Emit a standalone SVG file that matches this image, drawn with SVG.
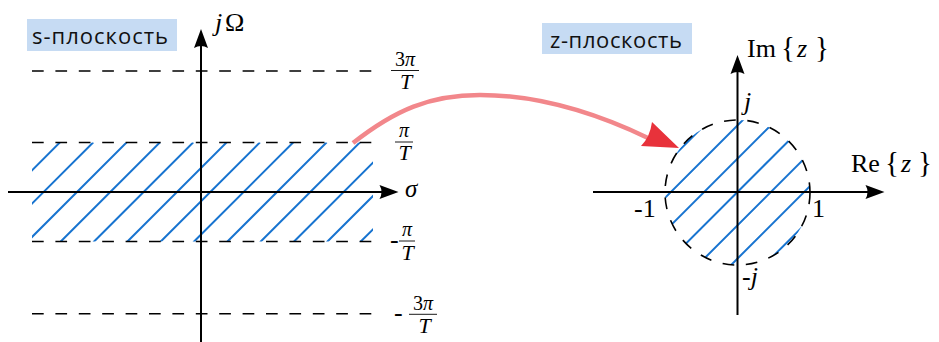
<svg xmlns="http://www.w3.org/2000/svg" width="939" height="342" viewBox="0 0 939 342">
<style>
.ax{stroke:#000;stroke-width:2;fill:none}
.ah{fill:#000;stroke:none}
.dash{stroke:#000;stroke-width:1.6;stroke-dasharray:11.7 11.7;fill:none}
.hat{stroke:#1874d0;stroke-width:2;fill:none}
.bar{stroke:#000;stroke-width:0.9}
.m{font-family:"Liberation Serif","DejaVu Serif",serif;fill:#000}
.it{font-style:italic}
.br{font-size:29px}
.lbl{font-family:"Open Sans","Noto Sans",sans-serif;font-size:22px;fill:#111}
.box{fill:#c6dbf3}
</style>
<defs>
<clipPath id="clipS"><rect x="32" y="142.5" width="341" height="99"/></clipPath>
<clipPath id="clipZ"><circle cx="737.5" cy="192.5" r="72.5"/></clipPath>
</defs>

<g id="s-plane">
  <g id="s-hatch" clip-path="url(#clipS)">
    <path class="hat" d="M-40,242.3 L60,142.3 M-6.7,242.3 L93.3,142.3 M26.7,242.3 L126.7,142.3 M60,242.3 L160,142.3 M93.3,242.3 L193.3,142.3 M126.7,242.3 L226.7,142.3 M160,242.3 L260,142.3 M193.3,242.3 L293.3,142.3 M226.7,242.3 L326.7,142.3 M260,242.3 L360,142.3 M293.3,242.3 L393.3,142.3 M326.7,242.3 L426.7,142.3 M360,242.3 L460,142.3"/>
  </g>
  <path class="dash" d="M32,71 H372 M32,142.5 H372 M32,241.5 H372 M32,313.8 H372"/>
  <path class="ax" d="M201,342 V44 M8,192 H384"/>
  <path class="ah" d="M201,29 L208,48 Q201,44 194,48 Z"/>
  <path class="ah" d="M398.5,192 L379.5,185 Q383.5,192 379.5,199 Z"/>
  <text class="m" x="215" y="31" font-size="26"><tspan class="it">j</tspan><tspan x="225">Ω</tspan></text>
  <text class="m it" x="405" y="197" font-size="25">σ</text>
  <g id="frac-3pi">
    <text class="m" x="405" y="65.5" font-size="20" text-anchor="middle">3<tspan class="it">π</tspan></text>
    <line class="bar" x1="391" y1="70.5" x2="419" y2="70.5"/>
    <text class="m it" x="406" y="89" font-size="22" text-anchor="middle">T</text>
  </g>
  <g id="frac-pi">
    <text class="m it" x="404" y="136.5" font-size="20" text-anchor="middle">π</text>
    <line class="bar" x1="395" y1="142" x2="413" y2="142"/>
    <text class="m it" x="404.5" y="160" font-size="22" text-anchor="middle">T</text>
  </g>
  <g id="frac-mpi">
    <text class="m" x="390" y="248" font-size="26">-</text>
    <text class="m it" x="407" y="236" font-size="20" text-anchor="middle">π</text>
    <line class="bar" x1="399" y1="241" x2="415" y2="241"/>
    <text class="m it" x="407.5" y="260" font-size="22" text-anchor="middle">T</text>
  </g>
  <g id="frac-m3pi">
    <text class="m" x="394" y="321" font-size="26">-</text>
    <text class="m" x="423" y="309.5" font-size="20" text-anchor="middle">3<tspan class="it">π</tspan></text>
    <line class="bar" x1="409" y1="314.3" x2="437" y2="314.3"/>
    <text class="m it" x="424.5" y="333" font-size="22" text-anchor="middle">T</text>
  </g>
  <g id="s-label">
    <rect class="box" x="27" y="19" width="150" height="32"/>
    <text class="lbl" x="32" y="43.5" textLength="136" lengthAdjust="spacing">s-плоскость</text>
  </g>
</g>

<g id="z-plane">
  <g id="z-hatch" clip-path="url(#clipZ)">
    <path class="hat" d="M650,179.6 L830,-0.4 M650,212.9 L830,32.9 M650,246.2 L830,66.2 M650,279.5 L830,99.5 M650,312.8 L830,132.8 M650,346.1 L830,166.1 M650,379.4 L830,199.4"/>
  </g>
  <circle cx="737.5" cy="192.5" r="72.5" class="dash"/>
  <path class="ax" d="M737.5,315 V70 M593,192 H870"/>
  <path class="ah" d="M737.5,55 L744.5,74 Q737.5,70 730.5,74 Z"/>
  <path class="ah" d="M884.5,192 L865.5,185 Q869.5,192 865.5,199 Z"/>
  <text class="m" y="57" font-size="26"><tspan x="747">Im</tspan><tspan x="781" class="br">{</tspan><tspan x="797" class="it">z</tspan><tspan x="815" class="br">}</tspan></text>
  <text class="m" y="172" font-size="26"><tspan x="851">Re</tspan><tspan x="885" class="br">{</tspan><tspan x="901" class="it">z</tspan><tspan x="918" class="br">}</tspan></text>
  <text class="m it" x="744" y="110" font-size="26">j</text>
  <text class="m" x="742" y="285" font-size="26">-<tspan class="it">j</tspan></text>
  <text class="m" x="634" y="217" font-size="26">-1</text>
  <text class="m" x="812" y="217" font-size="26">1</text>
  <g id="z-label">
    <rect class="box" x="542" y="23" width="150" height="31"/>
    <text class="lbl" x="550" y="47.5" textLength="132" lengthAdjust="spacing">z-плоскость</text>
  </g>
</g>

<g id="connectors">
  <path d="M353,143 C395,110 430,95 480,95 C540,95 600,115 648,138" fill="none" stroke="#f2878b" stroke-width="4.5"/>
  <path d="M679,148 L652,122 Q650,137 641,146 Z" fill="#e8323b"/>
</g>
</svg>
